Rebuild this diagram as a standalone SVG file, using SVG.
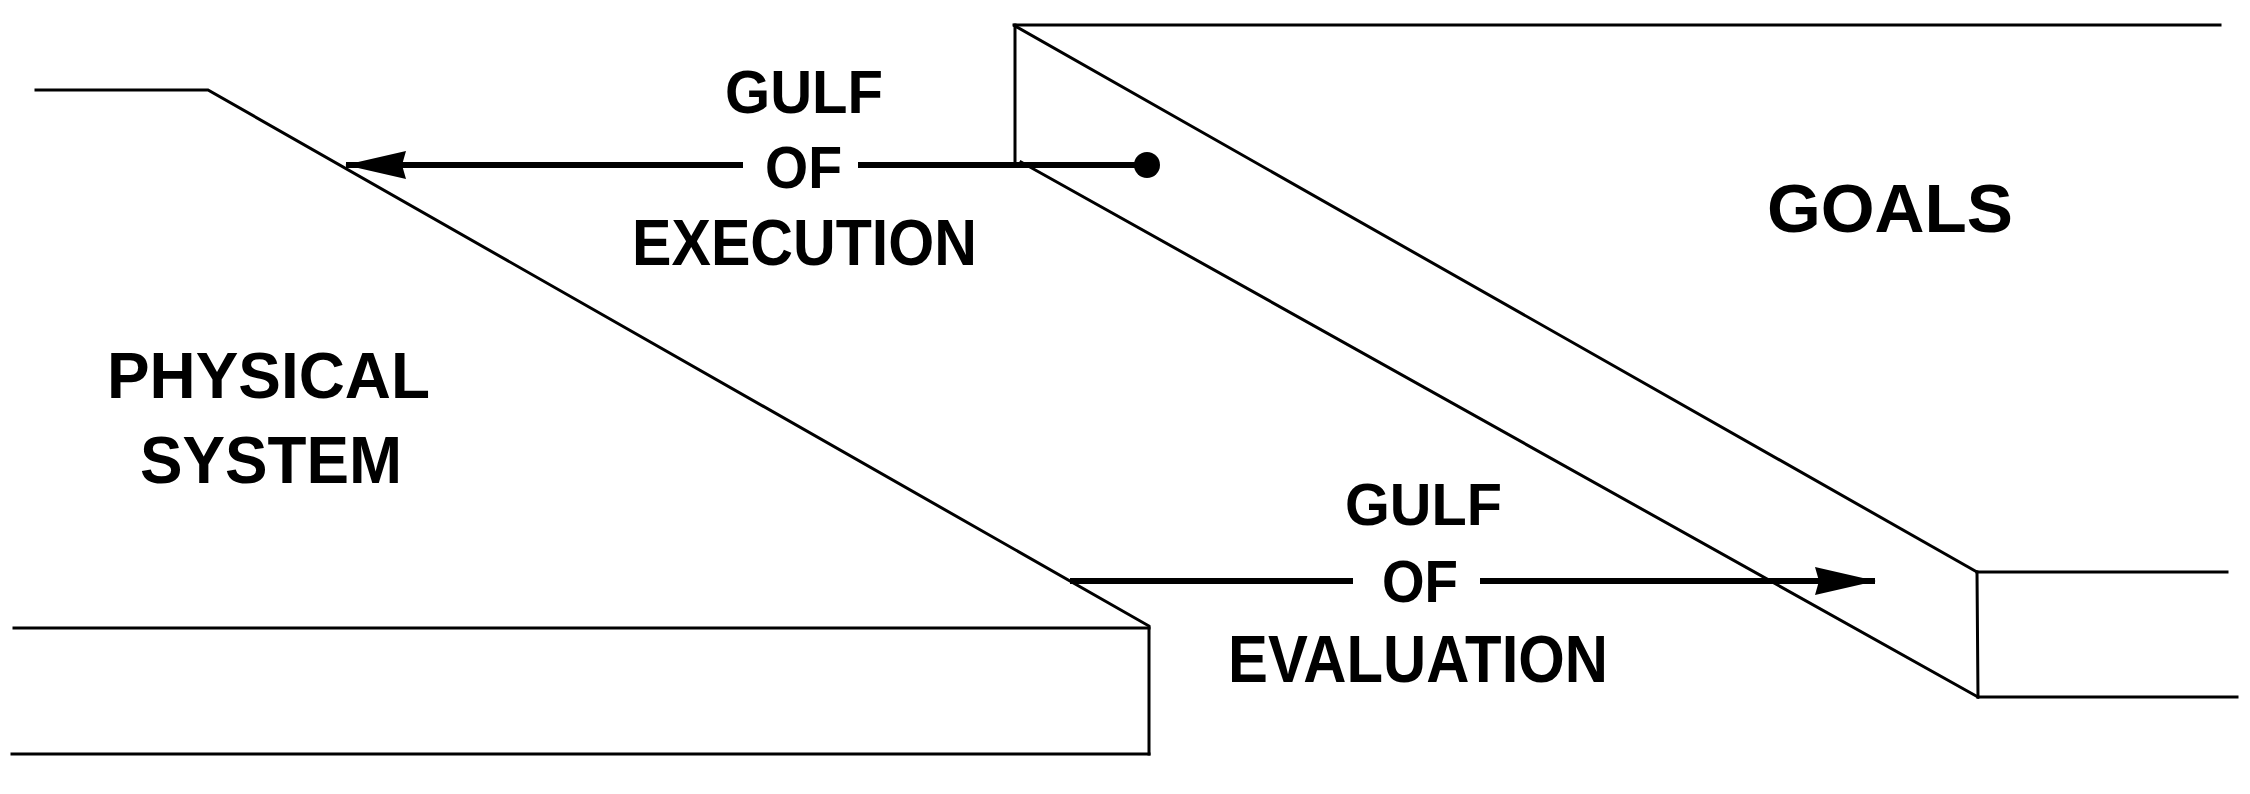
<svg xmlns="http://www.w3.org/2000/svg" width="2250" height="794" viewBox="0 0 2250 794">
  <style>
    .edge { fill: none; stroke: #000; stroke-width: 3; stroke-linejoin: miter; stroke-linecap: square; }
    .conn { fill: none; stroke: #000; stroke-width: 6; }
    .lbl { font-family: "Liberation Sans", Arial, sans-serif; font-weight: bold; fill: #000; }
  </style>
  <defs>
    <marker id="arrow" markerUnits="userSpaceOnUse" viewBox="-66 -16 68 32" refX="0" refY="0" markerWidth="68" markerHeight="32" orient="auto">
      <path d="M1,0 L-60,-14 L-56,0 L-60,14 Z" fill="#000"/>
    </marker>
    <marker id="dot" markerUnits="userSpaceOnUse" viewBox="-15 -15 30 30" refX="0" refY="0" markerWidth="30" markerHeight="30" orient="auto">
      <circle cx="0" cy="0" r="13" fill="#000"/>
    </marker>
  </defs>
  <rect width="2250" height="794" fill="#fff"/>

  <g id="physical-system">
    <polyline class="edge" points="36,90 208,90 1149,626 1149,754"/>
    <line class="edge" x1="14" y1="628" x2="1149" y2="628"/>
    <line class="edge" x1="12" y1="754" x2="1149" y2="754"/>
    <text class="lbl" x="107" y="398" font-size="65" textLength="323" lengthAdjust="spacingAndGlyphs">PHYSICAL</text>
    <text class="lbl" x="140" y="483" font-size="67" textLength="262" lengthAdjust="spacingAndGlyphs">SYSTEM</text>
  </g>

  <g id="goals">
    <line class="edge" x1="1014" y1="25" x2="2220" y2="25"/>
    <line class="edge" x1="1015" y1="25" x2="1015" y2="165"/>
    <line class="edge" x1="1015" y1="26" x2="1977" y2="572"/>
    <line class="edge" x1="1021" y1="162" x2="1978" y2="697"/>
    <line class="edge" x1="1977" y1="572" x2="1978" y2="697"/>
    <line class="edge" x1="1977" y1="572" x2="2227" y2="572"/>
    <line class="edge" x1="1978" y1="697" x2="2237" y2="697"/>
    <text class="lbl" x="1767" y="232" font-size="68" textLength="246" lengthAdjust="spacingAndGlyphs">GOALS</text>
  </g>

  <g id="connectors">
    <g id="gulf-of-execution">
      <path class="conn" d="M1147,165 H858 M743,165 H346" marker-start="url(#dot)" marker-end="url(#arrow)"/>
      <text class="lbl" x="725" y="113" font-size="62" textLength="158" lengthAdjust="spacingAndGlyphs">GULF</text>
      <text class="lbl" x="765" y="188" font-size="60" textLength="77" lengthAdjust="spacingAndGlyphs">OF</text>
      <text class="lbl" x="632" y="265" font-size="64" textLength="345" lengthAdjust="spacingAndGlyphs">EXECUTION</text>
    </g>
    <g id="gulf-of-evaluation">
      <path class="conn" d="M1070,581 H1353 M1480,581 H1875" marker-end="url(#arrow)"/>
      <text class="lbl" x="1345" y="525" font-size="60" textLength="157" lengthAdjust="spacingAndGlyphs">GULF</text>
      <text class="lbl" x="1382" y="602" font-size="60" textLength="76" lengthAdjust="spacingAndGlyphs">OF</text>
      <text class="lbl" x="1228" y="682" font-size="67" textLength="380" lengthAdjust="spacingAndGlyphs">EVALUATION</text>
    </g>
  </g>
</svg>
